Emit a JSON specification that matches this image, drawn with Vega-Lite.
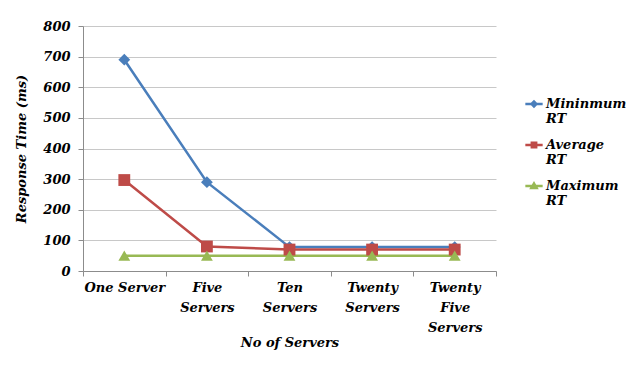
{
  "$schema": "https://vega.github.io/schema/vega-lite/v6.json",
  "autosize": {"type": "none"},
  "padding": {"left": 83, "top": 26, "right": 145, "bottom": 94},
  "width": 413,
  "height": 245,
  "background": "white",
  "data": {"values": [
    {"servers": "One Server", "series": "Mininmum RT", "rt": 690},
    {"servers": "Five Servers", "series": "Mininmum RT", "rt": 290},
    {"servers": "Ten Servers", "series": "Mininmum RT", "rt": 78},
    {"servers": "Twenty Servers", "series": "Mininmum RT", "rt": 78},
    {"servers": "Twenty Five Servers", "series": "Mininmum RT", "rt": 78},
    {"servers": "One Server", "series": "Average RT", "rt": 297},
    {"servers": "Five Servers", "series": "Average RT", "rt": 80},
    {"servers": "Ten Servers", "series": "Average RT", "rt": 70},
    {"servers": "Twenty Servers", "series": "Average RT", "rt": 70},
    {"servers": "Twenty Five Servers", "series": "Average RT", "rt": 70},
    {"servers": "One Server", "series": "Maximum RT", "rt": 50},
    {"servers": "Five Servers", "series": "Maximum RT", "rt": 50},
    {"servers": "Ten Servers", "series": "Maximum RT", "rt": 50},
    {"servers": "Twenty Servers", "series": "Maximum RT", "rt": 50},
    {"servers": "Twenty Five Servers", "series": "Maximum RT", "rt": 50}
  ]},
  "config": {
    "view": {"stroke": null},
    "axis": {
      "labelFont": "DejaVu Serif", "labelFontWeight": "bold", "labelFontStyle": "italic",
      "labelFontSize": 13, "labelColor": "#000",
      "titleFont": "DejaVu Serif", "titleFontWeight": "bold", "titleFontStyle": "italic",
      "titleFontSize": 13, "titleColor": "#000",
      "domainColor": "#8c8c8c", "tickColor": "#8c8c8c", "gridColor": "#c8c8c8"
    },
    "legend": {
      "labelFont": "DejaVu Serif", "labelFontWeight": "bold", "labelFontStyle": "italic",
      "labelFontSize": 13, "labelColor": "#000"
    }
  },
  "resolve": {"legend": {"color": "independent", "shape": "independent"}},
  "encoding": {
    "x": {
      "field": "servers", "type": "nominal", "sort": null,
      "scale": {"type": "band", "paddingInner": 0, "paddingOuter": 0},
      "axis": {
        "title": "No of Servers", "labelAngle": 0, "tickBand": "extent", "grid": false,
        "tickSize": 5, "labelPadding": 5, "titlePadding": 2, "labelLineHeight": 20,
        "labelExpr": "datum.label == 'One Server' ? datum.label : split(datum.label, ' ')"
      }
    },
    "y": {
      "field": "rt", "type": "quantitative",
      "scale": {"domain": [0, 800]},
      "axis": {
        "title": "Response Time (ms)", "values": [0,100,200,300,400,500,600,700,800],
        "tickSize": 5, "labelPadding": 8, "titlePadding": 14, "grid": true
      }
    }
  },
  "layer": [
    {
      "mark": {"type": "line", "strokeWidth": 2.5},
      "encoding": {
        "color": {
          "field": "series", "type": "nominal", "sort": null,
          "scale": {"domain": ["Mininmum RT", "Average RT", "Maximum RT"], "range": ["#4a7ebb", "#be4b48", "#98b954"]},
          "legend": {
            "title": null, "orient": "none", "legendX": 441, "legendY": 68,
            "symbolSize": 300, "symbolStrokeWidth": 2.5,
            "labelExpr": "split(datum.label, ' ')", "labelLineHeight": 19, "rowPadding": 9,
            "labelOffset": 2,
            "encode": {"symbols": {"update": {
              "shape": {"signal": "datum.value == 'Mininmum RT' ? 'M-1,0H1M-0.28,0L0,-0.28L0.28,0L0,0.28Z' : datum.value == 'Average RT' ? 'M-1,0H1M-0.25,-0.25H0.25V0.25H-0.25Z' : 'M-1,0H1M-0.3,0.22L0,-0.3L0.3,0.22Z'"},
              "fill": {"signal": "scale('color', datum.value)"},
              "stroke": {"signal": "scale('color', datum.value)"}
            }}}
          }
        }
      }
    },
    {
      "mark": {"type": "point", "filled": true, "opacity": 1, "size": 140},
      "encoding": {
        "color": {
          "field": "series", "type": "nominal", "sort": null, "legend": null,
          "scale": {"domain": ["Mininmum RT", "Average RT", "Maximum RT"], "range": ["#4a7ebb", "#be4b48", "#98b954"]}
        },
        "shape": {
          "field": "series", "type": "nominal", "sort": null, "legend": null,
          "scale": {"domain": ["Mininmum RT", "Average RT", "Maximum RT"], "range": ["diamond", "square", "triangle-up"]}
        }
      }
    }
  ]
}
